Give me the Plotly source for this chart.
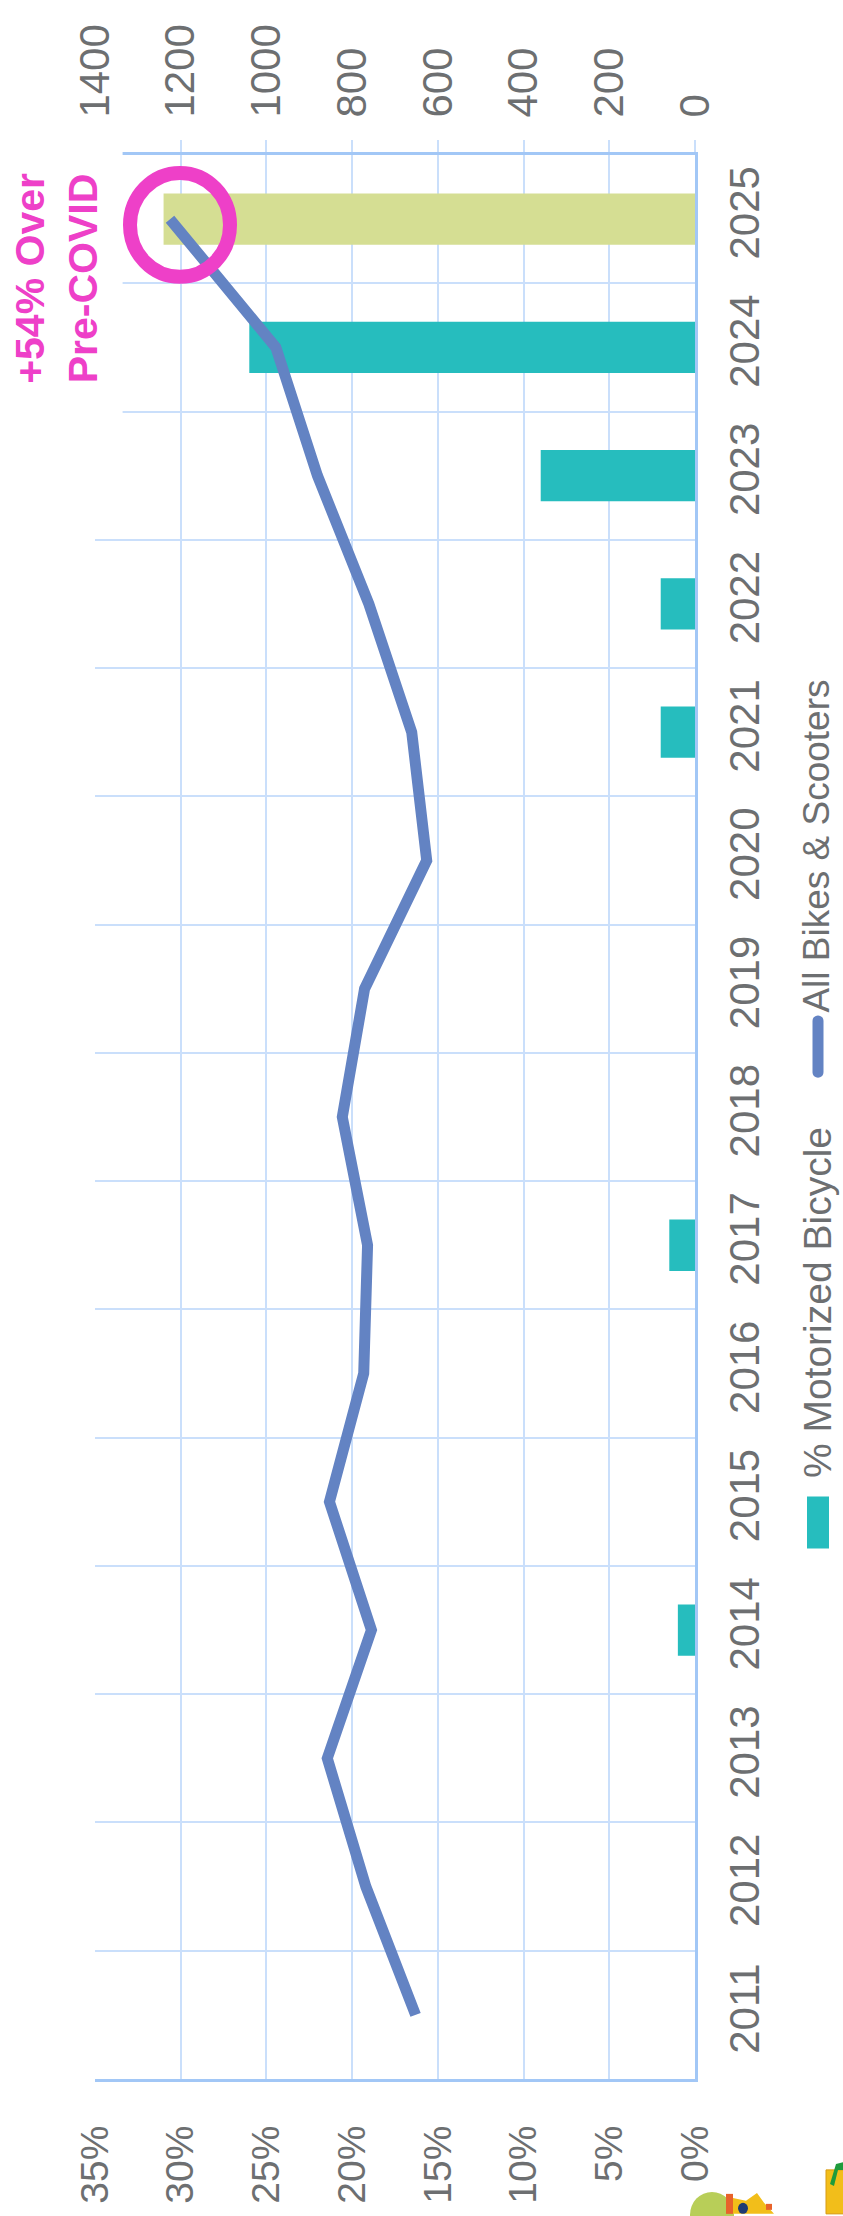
import plotly.graph_objects as go

# ---- data -------------------------------------------------------------
years = list(range(2011, 2026))
motorized_pct = [None, None, None, 1.0, None, None, 1.5, None, None, None,
                 2.0, 2.0, 9.0, 26.0, 31.0]
all_bikes = [652, 768, 858, 755, 853, 773, 764, 823, 771, 626,
             661, 761, 881, 978, 1225]
pct_ticks = [0, 5, 10, 15, 20, 25, 30, 35]
pct_labels = [f"{v}%" for v in pct_ticks]
count_ticks = [0, 200, 400, 600, 800, 1000, 1200, 1400]

# ---- styling ----------------------------------------------------------
W, H = 843, 2216
L, R, T, B = 95, 148, 155, 135
PW, PH = W - L - R, H - T - B

FONT = "Liberation Sans, Arial, sans-serif"
GRAY = "#6D6F71"
GRID = "#CADFFB"
AXIS = "#A2C7F6"
TEAL = "#26BDBE"
OLIVE = "#D5DE93"
BLUE = "#6383C3"
PINK = "#EE40C8"


def px(x):
    return (x - L) / PW


def py(y):
    return (H - B - y) / PH


bar_colors = [OLIVE if y == 2025 else TEAL for y in years]

fig = go.Figure()

fig.add_trace(go.Bar(
    y=years, x=motorized_pct, orientation="h", width=0.4,
    marker=dict(color=bar_colors, line=dict(width=0)),
    xaxis="x", yaxis="y", showlegend=False,
))

fig.add_trace(go.Scatter(
    y=years, x=all_bikes, mode="lines",
    line=dict(color=BLUE, width=11),
    xaxis="x2", yaxis="y", showlegend=False,
))

fig.update_layout(
    width=W, height=H,
    margin=dict(l=L, r=R, t=T, b=B, pad=0),
    paper_bgcolor="white", plot_bgcolor="white",
    xaxis=dict(
        range=[35, 0], tickvals=pct_ticks, ticktext=pct_labels,
        tickangle=-90, tickfont=dict(family=FONT, size=39, color=GRAY),
        showgrid=True, gridcolor=GRID, gridwidth=2,
        showline=True, linecolor=AXIS, linewidth=3,
        zeroline=False, ticks="", ticklabelstandoff=28,
    ),
    xaxis2=dict(
        overlaying="x", side="top",
        range=[1400, 0], tickvals=count_ticks,
        ticktext=[str(v) for v in count_ticks],
        tickangle=-90, tickfont=dict(family=FONT, size=42, color=GRAY),
        showgrid=False, showline=True, linecolor=AXIS, linewidth=3,
        zeroline=False, ticks="outside", ticklen=12, tickwidth=2,
        tickcolor=GRID, ticklabelstandoff=14,
    ),
    yaxis=dict(
        range=[2010.5, 2025.5], tickvals=years,
        ticktext=[str(y) for y in years], side="right",
        tickangle=-90, tickfont=dict(family=FONT, size=42, color=GRAY),
        showgrid=False, showline=True, linecolor=AXIS, linewidth=3,
        zeroline=False, ticks="", ticklabelstandoff=11,
        minor=dict(tickvals=[y - 0.5 for y in years] + [2025.5],
                   showgrid=True, gridcolor=GRID, gridwidth=2, ticks=""),
    ),
)

shapes = []
# white box behind the callout text
shapes.append(dict(type="rect", xref="paper", yref="paper",
                   x0=px(-5), x1=px(122.6), y0=py(421), y1=py(128),
                   fillcolor="white", line=dict(width=0), layer="above"))
# callout ring around the latest point
shapes.append(dict(type="circle", xref="paper", yref="paper",
                   x0=px(130), x1=px(230), y0=py(277), y1=py(173),
                   line=dict(color=PINK, width=14), layer="above"))

# legend: swatch for bars
shapes.append(dict(type="rect", xref="paper", yref="paper",
                   x0=px(807), x1=px(829), y0=py(1550), y1=py(1498),
                   fillcolor=TEAL, line=dict(width=0)))


def P(x, y):
    return f"{px(x):.5f},{py(y):.5f}"


# legend: rounded line symbol
cx, r_, ytop, ybot = 818, 5.5, 1022, 1073
path = (f"M {P(cx - r_, ytop)} L {P(cx - r_, ybot)} "
        f"C {P(cx - r_, ybot + 7.5)} {P(cx + r_, ybot + 7.5)} {P(cx + r_, ybot)} "
        f"L {P(cx + r_, ytop)} "
        f"C {P(cx + r_, ytop - 7.5)} {P(cx - r_, ytop - 7.5)} {P(cx - r_, ytop)} Z")
shapes.append(dict(type="path", xref="paper", yref="paper", path=path,
                   fillcolor=BLUE, line=dict(width=0)))

# partial illustration along the bottom edge
shapes.append(dict(type="circle", xref="paper", yref="paper",
                   x0=px(690), x1=px(734), y0=py(2240), y1=py(2194),
                   fillcolor="#B8CE58", line=dict(width=0)))
shapes.append(dict(type="rect", xref="paper", yref="paper",
                   x0=px(726), x1=px(733), y0=py(2216), y1=py(2196),
                   fillcolor="#E8632B", line=dict(width=0)))
shapes.append(dict(type="path", xref="paper", yref="paper",
                   path=(f"M {P(733, 2216)} L {P(733, 2200)} L {P(746, 2203)} "
                         f"L {P(757, 2195)} L {P(764, 2205)} L {P(774, 2216)} Z"),
                   fillcolor="#F2BE1A", line=dict(width=0)))
shapes.append(dict(type="circle", xref="paper", yref="paper",
                   x0=px(738), x1=px(748), y0=py(2216), y1=py(2205),
                   fillcolor="#1F3B73", line=dict(width=0)))
shapes.append(dict(type="rect", xref="paper", yref="paper",
                   x0=px(766), x1=px(772), y0=py(2212), y1=py(2206),
                   fillcolor="#E8632B", line=dict(width=0)))
shapes.append(dict(type="rect", xref="paper", yref="paper",
                   x0=px(826), x1=px(845), y0=py(2216), y1=py(2172),
                   fillcolor="#F2BE1A", line=dict(color="#D79A12", width=1)))
shapes.append(dict(type="path", xref="paper", yref="paper",
                   path=(f"M {P(830, 2186)} L {P(836, 2166)} L {P(845, 2164)} "
                         f"L {P(845, 2172)} L {P(838, 2172)} L {P(834, 2188)} Z"),
                   fillcolor="#1E9B3C", line=dict(width=0)))

fig.update_layout(shapes=shapes)

annotations = [
    dict(text="<b>+54% Over</b><br><b>Pre-COVID</b>", xref="paper", yref="paper",
         x=px(57), y=py(279), xanchor="center", yanchor="middle",
         textangle=-90, showarrow=False, align="center",
         font=dict(family=FONT, size=41, color=PINK)),
    dict(text="% Motorized Bicycle", xref="paper", yref="paper",
         x=px(817), y=py(1482), xanchor="center", yanchor="bottom",
         textangle=-90, showarrow=False,
         font=dict(family=FONT, size=39, color=GRAY)),
    dict(text="All Bikes & Scooters", xref="paper", yref="paper",
         x=px(817), y=py(1016), xanchor="center", yanchor="bottom",
         textangle=-90, showarrow=False,
         font=dict(family=FONT, size=37, color=GRAY)),
]
fig.update_layout(annotations=annotations)

fig.write_html("out.html")
